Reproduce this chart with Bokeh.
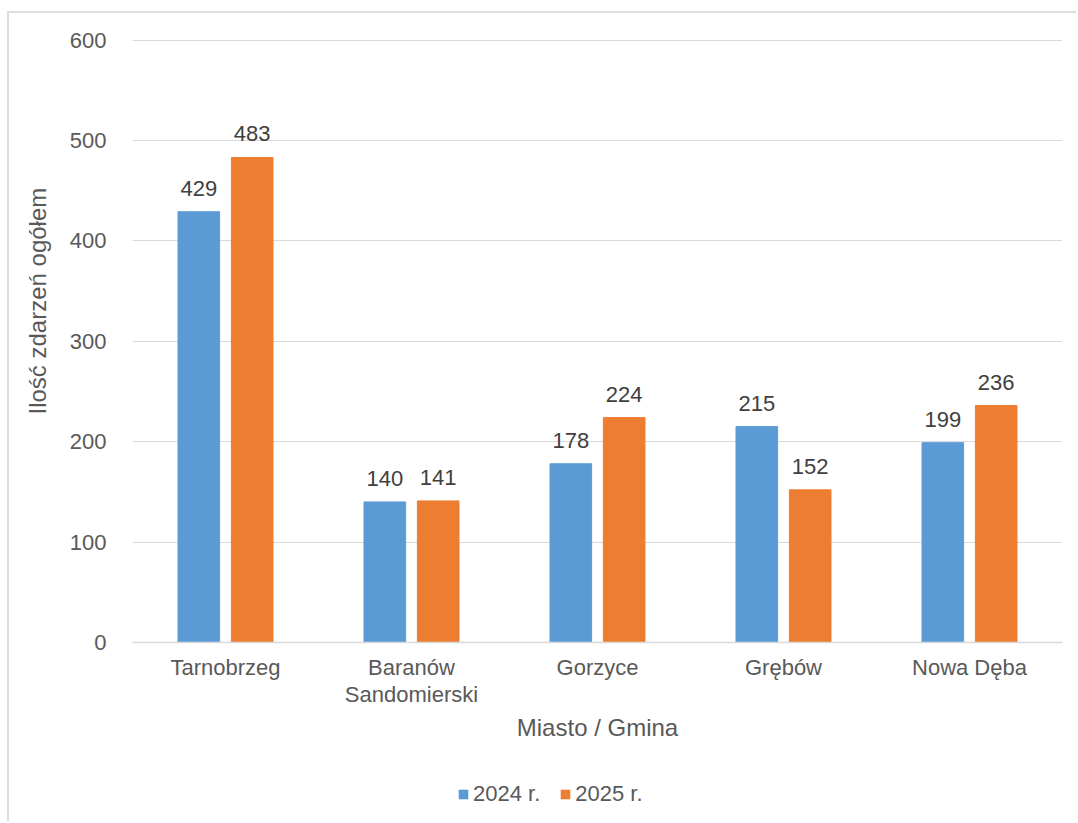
from bokeh.plotting import figure
from bokeh.layouts import column
from bokeh.models import (ColumnDataSource, FactorRange, Range1d, LabelSet, Title,
                          Legend, LegendItem, FixedTicker)
from bokeh.core.properties import value
from bokeh.transform import dodge
from bokeh.embed import file_html
from bokeh.resources import INLINE

# ---- data ----
categories = ["Tarnobrzeg", "Baranów\nSandomierski", "Gorzyce", "Grębów", "Nowa Dęba"]
values_2024 = [429, 140, 178, 215, 199]
values_2025 = [483, 141, 224, 152, 236]
series_names = ["2024 r.", "2025 r."]
y_ticks = [0, 100, 200, 300, 400, 500, 600]
x_title = "Miasto / Gmina"
y_title = "Ilość zdarzeń ogółem"

FONT = "Liberation Sans"
BLUE = "#5B9BD5"
ORANGE = "#ED7D31"
TICK_COLOR = "#595959"
LABEL_COLOR = "#404040"
GRID = "#D9D9D9"

src = ColumnDataSource(dict(
    cat=categories,
    v2024=values_2024,
    v2025=values_2025,
    t2024=[str(v) for v in values_2024],
    t2025=[str(v) for v in values_2025],
))

# ---- main chart ----
p = figure(
    x_range=FactorRange(*categories, range_padding=0),
    y_range=Range1d(0, 602.5),
    width=1069, height=745,
    output_backend="svg", toolbar_location=None,
    min_border_left=123, min_border_right=16,
    min_border_top=24, min_border_bottom=116,
)
p.outline_line_color = None
p.background_fill_color = "white"
p.border_fill_color = "white"

OFF = 0.1435
W = 0.2237
r1 = p.vbar(x=dodge("cat", -OFF, range=p.x_range), top="v2024", width=W,
            source=src, fill_color=BLUE, line_color=BLUE)
r2 = p.vbar(x=dodge("cat", OFF, range=p.x_range), top="v2025", width=W,
            source=src, fill_color=ORANGE, line_color=ORANGE)

for field, txt, off in (("v2024", "t2024", -OFF), ("v2025", "t2025", OFF)):
    ls = LabelSet(x=dodge("cat", off, range=p.x_range), y=field, text=txt, source=src,
                  text_align="center", text_baseline="alphabetic", y_offset=16,
                  text_font=value(FONT), text_font_size=value("22px"),
                  text_color=LABEL_COLOR)
    p.add_layout(ls)

p.xgrid.grid_line_color = None
p.ygrid.grid_line_color = GRID
p.ygrid.grid_line_width = 1

p.yaxis.ticker = FixedTicker(ticks=y_ticks)
p.yaxis.axis_line_color = None
p.yaxis.major_tick_line_color = None
p.yaxis.minor_tick_line_color = None
p.yaxis.major_label_standoff = 20
p.yaxis.major_label_text_font = FONT
p.yaxis.major_label_text_font_size = "22px"
p.yaxis.major_label_text_color = TICK_COLOR

# y title, shifted upward as in the reference
yt = Title(text=y_title, align="left", offset=228, standoff=28,
           vertical_align="top",
           text_font=FONT, text_font_size="24px", text_font_style="normal",
           text_color=TICK_COLOR)
p.add_layout(yt, "left")

p.xaxis.axis_line_color = GRID
p.xaxis.axis_line_width = 1.5
p.xaxis.major_tick_line_color = None
p.xaxis.minor_tick_line_color = None
p.xaxis.major_label_standoff = 6
p.xaxis.major_label_text_font = FONT
p.xaxis.major_label_text_font_size = "22px"
p.xaxis.major_label_text_line_height = 1.1
p.xaxis.major_label_text_color = TICK_COLOR
p.xaxis.axis_label = x_title
p.xaxis.axis_label_standoff = 4
p.xaxis.axis_label_text_font = FONT
p.xaxis.axis_label_text_font_size = "24px"
p.xaxis.axis_label_text_font_style = "normal"
p.xaxis.axis_label_text_color = TICK_COLOR

# ---- legend strip (frame aligned with the chart's frame) ----
p2 = figure(width=1069, height=65, x_range=p.x_range, y_range=Range1d(0, 1),
            output_backend="svg", toolbar_location=None,
            x_axis_location=None, y_axis_location=None, min_border=0)
p2.grid.visible = False
p2.outline_line_color = None
p2.border_fill_color = "white"
# zero-size bars outside this strip's range: only their legend glyphs show
l1 = p2.vbar(x="cat", top="v2024", bottom="v2024", width=0, source=src,
             fill_color=BLUE, line_color=None)
l2 = p2.vbar(x="cat", top="v2025", bottom="v2025", width=0, source=src,
             fill_color=ORANGE, line_color=None)

legend = Legend(items=[LegendItem(label=series_names[0], renderers=[l1]),
                       LegendItem(label=series_names[1], renderers=[l2])],
                orientation="horizontal", location=(325, 16),
                padding=0, margin=0, spacing=19, label_standoff=4,
                glyph_width=12, glyph_height=12,
                border_line_color=None, background_fill_alpha=0,
                label_text_font=FONT, label_text_font_size="22px",
                label_text_color=TICK_COLOR)
p2.add_layout(legend)

layout = column(p, p2, spacing=0,
                styles={"margin-left": "9px", "margin-top": "13px",
                        "box-shadow": "-2px -2px 0 0 #DEDEDE"})

open("out.html", "w").write(file_html(layout, INLINE))
